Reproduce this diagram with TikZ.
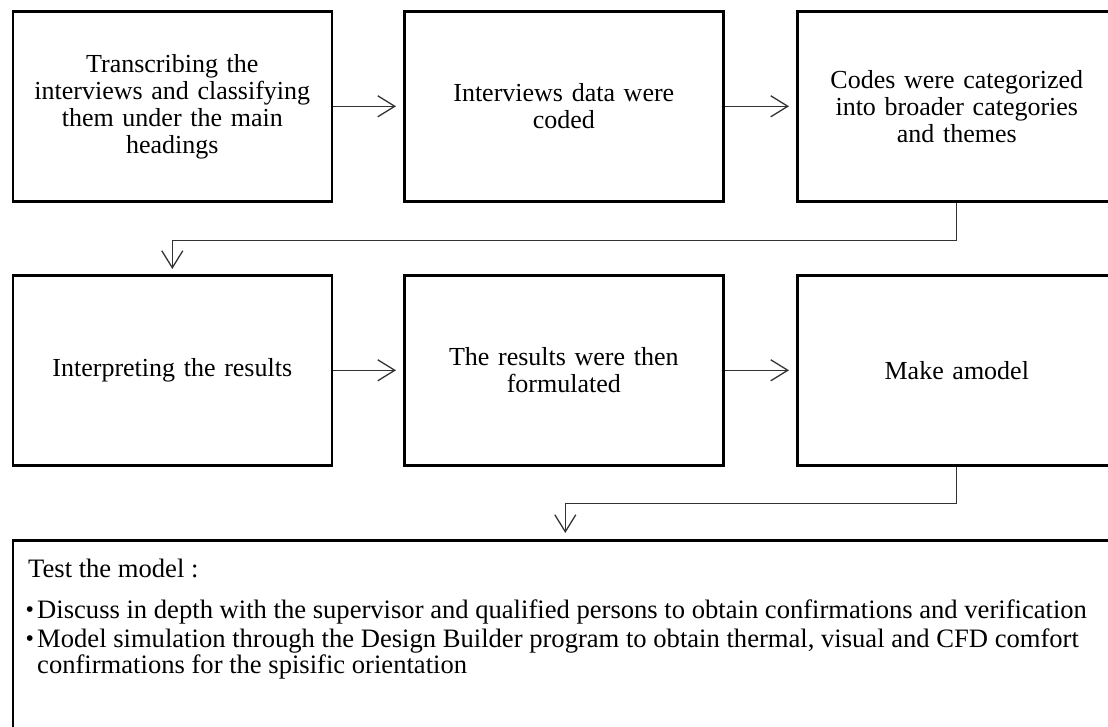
\documentclass[tikz,border=0pt]{standalone}
\usepackage{fontspec}
\setmainfont{Liberation Serif}
\usetikzlibrary{arrows.meta}
\begin{document}
\begin{tikzpicture}[x=1pt,y=1pt,
  stepbox/.style={draw=black, line width=2.6pt, minimum width=319pt,
    minimum height=190pt, text width=305pt, align=center, inner sep=0pt,
    anchor=north west, font=\fontsize{26}{27}\selectfont},
  link/.style={draw=black!80, line width=1.3pt,
    -{Straight Barb[length=17pt,width=21pt,line width=1.3pt]}},
  body/.style={anchor=base west, inner sep=0pt, font=\fontsize{26.6}{27}\selectfont},
  dot/.style={anchor=base west, inner sep=0pt, font=\fontsize{24}{27}\selectfont}]
\useasboundingbox (0,0) rectangle (1108,726);
\clip (0,0) rectangle (1108,726);

% first row
\node[stepbox] (b1) at (11.5,716) {Transcribing the\\interviews and classifying\\them under the main\\headings};
\node[stepbox] (b2) at (403,716) {Interviews data were\\coded};
\node[stepbox] (b3) at (796,716) {Codes were categorized\\into broader categories\\and themes};

% second row
\node[stepbox] (b4) at (11.5,452) {Interpreting the results};
\node[stepbox] (b5) at (403,452) {The results were then\\formulated};
\node[stepbox] (b6) at (796,452) {Make amodel};

% final box, running past the page edge
\node[draw=black, line width=2.6pt, minimum width=1105pt, minimum height=230pt,
  inner sep=0pt, anchor=north west] (b7) at (11.5,187) {};

\node[body] (t0) at (28,149) {Test the model :};
\node[dot] (p1) at (25.5,108.5) {\textbullet};
\node[body] (t1) at (37,108) {Discuss in depth with the supervisor and qualified persons to obtain confirmations and verification};
\node[dot] (p2) at (25.5,79.5) {\textbullet};
\node[body] (t2) at (37,79) {Model simulation through the Design Builder program to obtain thermal, visual and CFD comfort};
\node[body] (t3) at (37,53) {confirmations for the spisific orientation};

% connectors
\draw[link, shorten >=7pt] (b1.east) -- (b2.west);
\draw[link, shorten >=7pt] (b2.east) -- (b3.west);
\draw[link, shorten >=7pt] (b4.east) -- (b5.west);
\draw[link, shorten >=7pt] (b5.east) -- (b6.west);
\draw[link, shorten >=5pt] (b3.south) -- ++(0,-38) -| (b4.north);
\draw[link, shorten >=6pt] (b6.south) -- ++(0,-37) -| (b7.north);
\end{tikzpicture}
\end{document}
